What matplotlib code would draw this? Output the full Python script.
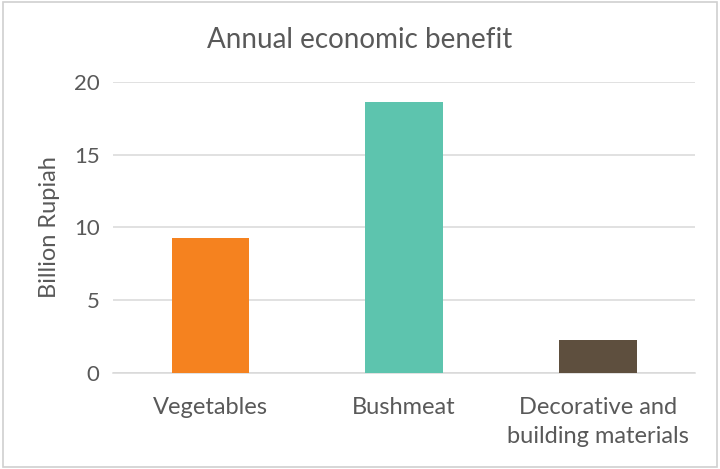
import matplotlib.pyplot as plt
from matplotlib.patches import Rectangle

categories = ["Vegetables", "Bushmeat", "Decorative and\nbuilding materials"]
benefit = [9.3, 18.6, 2.3]
colors = ["#F5821F", "#5DC4AE", "#5E4F3E"]
yticks = [0, 5, 10, 15, 20]

plt.rcParams['font.family'] = ['Lato', 'DejaVu Sans']
text_color = "#595959"

fig = plt.figure(figsize=(7.2, 4.69), dpi=100)
ax = fig.add_axes([0.1575, 0.204, 0.8075, 0.622])

x = range(len(categories))
ax.bar(x, benefit, width=0.4, color=colors, zorder=3)

ax.set_xlim(-0.5, len(categories) - 0.5)
ax.set_ylim(0, 20)
ax.set_yticks(yticks)
ax.set_xticks(list(x))
ax.set_xticklabels(categories, fontsize=17, color=text_color, linespacing=1.5)
ax.tick_params(axis='y', labelsize=16, labelcolor=text_color, length=0, pad=10)
ax.tick_params(axis='x', length=0, pad=17)

ax.grid(axis='y', color="#D9D9D9", linewidth=1.1, zorder=0)
for side in ["top", "right", "left"]:
    ax.spines[side].set_visible(False)
ax.spines["bottom"].set_color("#D9D9D9")
ax.spines["bottom"].set_linewidth(1.1)

ax.set_ylabel("Billion Rupiah", fontsize=17, color=text_color, labelpad=10)
fig.text(0.5, 0.915, "Annual economic benefit", ha="center", va="center",
         fontsize=20, color=text_color)

# outer chart border
fig.patches.append(Rectangle((0.004, 0.005), 0.992, 0.99, transform=fig.transFigure,
                             fill=False, edgecolor="#D0D0D0", linewidth=1.2))

fig.savefig("out.png", dpi=100)
